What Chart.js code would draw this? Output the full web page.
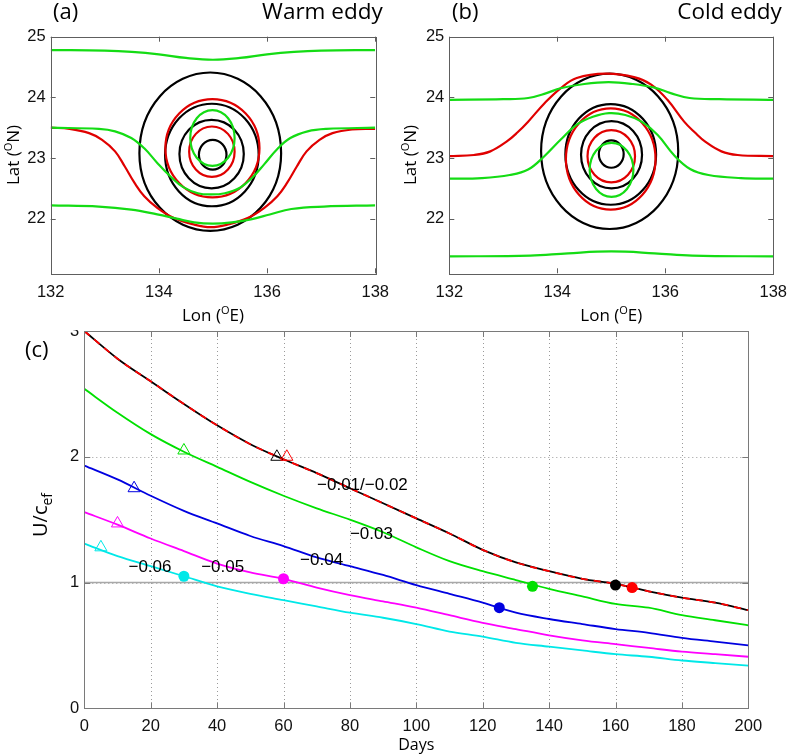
<!DOCTYPE html>
<html>
<head>
<meta charset="utf-8">
<title>Warm / cold eddy</title>
<script src="https://cdn.jsdelivr.net/npm/chart.js@4.4.1/dist/chart.umd.min.js"></script>
<style>
  html, body { margin: 0; padding: 0; background: #fff; }
  #wrap { position: relative; width: 796px; height: 754px; overflow: hidden; }
  canvas { position: absolute; }
  #panelA { left: 0; top: 0; z-index: 2; background: #fff; }
  #panelB { left: 398px; top: 0; z-index: 2; background: #fff; }
  #panelC { left: 0; top: 310px; z-index: 1; background: #fff; }
</style>
</head>
<body>
<div id="wrap">
  <canvas id="panelA" width="398" height="330"></canvas>
  <canvas id="panelB" width="398" height="330"></canvas>
  <canvas id="panelC" width="796" height="444"></canvas>
</div>
<script>
// ---- ticks ----
const lonTicks = [132, 134, 136, 138];
const latTicks = [22, 23, 24, 25];
const dayTicks = [0, 20, 40, 60, 80, 100, 120, 140, 160, 180, 200];
const ratioTicks = [0, 1, 2, 3];

// ---- (a) warm eddy: open streamlines, [lon, lat] ----
const warmGreenTop = [[132,24.78],[133,24.77],[133.5,24.75],[134,24.71],[134.5,24.65],[135,24.62],[135.5,24.65],[136,24.71],[136.5,24.75],[137,24.77],[138,24.78]];
const warmGreenMid = [[132,23.50],[132.89,23.48],[133.19,23.44],[133.49,23.33],[133.73,23.16],[133.97,22.92],[134.21,22.70],[134.45,22.52],[134.72,22.42],[134.96,22.40],[135.22,22.42],[135.5,22.51],[135.73,22.68],[135.95,22.90],[136.19,23.15],[136.43,23.33],[136.75,23.44],[137.1,23.48],[138,23.50]];
const warmGreenLow = [[132,22.22],[132.89,22.20],[133.49,22.15],[133.97,22.07],[134.33,22.00],[134.65,21.94],[135,21.92],[135.35,21.94],[135.7,21.99],[136.05,22.07],[136.45,22.16],[137.05,22.20],[138,22.22]];
const warmRedLine = [[132,23.50],[132.35,23.48],[132.71,23.41],[132.95,23.30],[133.19,23.11],[133.37,22.86],[133.55,22.59],[133.73,22.37],[133.97,22.18],[134.28,22.01],[134.62,21.91],[134.96,21.86],[135.3,21.91],[135.64,22.01],[135.95,22.18],[136.19,22.37],[136.37,22.59],[136.55,22.86],[136.73,23.11],[136.97,23.30],[137.21,23.41],[137.57,23.47],[138,23.48]];
// closed contours
const warmBlack1 = [[134.95,24.41],[135.88,24.02],[136.26,23.08],[135.88,22.18],[134.95,21.80],[134.02,22.18],[133.64,23.08],[134.02,24.02]];
const warmBlack2 = [[134.98,23.895],[135.59,23.65],[135.845,23.05],[135.59,22.45],[134.98,22.205],[134.37,22.45],[134.115,23.05],[134.37,23.65]];
const warmBlack3 = [[134.975,23.63],[135.396,23.465],[135.57,23.065],[135.396,22.665],[134.975,22.50],[134.554,22.665],[134.38,23.065],[134.554,23.465]];
const warmBlack4 = [[134.995,23.30],[135.175,23.228],[135.25,23.055],[135.175,22.882],[134.995,22.81],[134.815,22.882],[134.74,23.055],[134.815,23.228]];
const warmRed1 = [[134.99,23.97],[135.605,23.733],[135.86,23.16],[135.605,22.587],[134.99,22.35],[134.375,22.587],[134.12,23.16],[134.375,23.733]];
const warmRed2 = [[134.98,23.52],[135.277,23.398],[135.40,23.105],[135.277,22.812],[134.98,22.69],[134.683,22.812],[134.56,23.105],[134.683,23.398]];
const warmGreenRing = [[134.99,23.79],[135.28,23.655],[135.40,23.33],[135.28,23.005],[134.99,22.87],[134.70,23.005],[134.58,23.33],[134.70,23.655]];

// ---- (b) cold eddy ----
const coldGreenTop = [[132,23.96],[133,23.97],[133.46,23.99],[133.8,24.07],[134.06,24.15],[134.5,24.22],[134.95,24.25],[135.4,24.22],[135.8,24.16],[136.1,24.07],[136.45,23.99],[137,23.97],[138,23.96]];
const coldGreenMid = [[132,22.66],[132.6,22.67],[133.12,22.72],[133.46,22.81],[133.76,23.03],[134.06,23.30],[134.36,23.55],[134.66,23.68],[134.96,23.74],[135.26,23.71],[135.56,23.60],[135.86,23.38],[136.16,23.05],[136.46,22.82],[136.8,22.72],[137.4,22.67],[138,22.66]];
const coldGreenLow = [[132,21.38],[133.5,21.39],[134.2,21.43],[135,21.46],[135.8,21.43],[136.5,21.39],[138,21.38]];
const coldRedLine = [[132,23.03],[132.46,23.05],[132.76,23.11],[133.06,23.27],[133.26,23.42],[133.46,23.60],[133.76,23.90],[134.06,24.15],[134.36,24.32],[134.9,24.39],[135.44,24.33],[135.74,24.21],[136.04,23.96],[136.35,23.60],[136.55,23.42],[136.74,23.27],[137.04,23.11],[137.34,23.05],[138,23.03]];
const coldBlack1 = [[134.97,24.39],[135.868,24.015],[136.24,23.11],[135.868,22.205],[134.97,21.83],[134.072,22.205],[133.70,23.11],[134.072,24.015]];
const coldBlack2 = [[134.99,23.89],[135.584,23.647],[135.83,23.06],[135.584,22.473],[134.99,22.23],[134.396,22.473],[134.15,23.06],[134.396,23.647]];
const coldBlack3 = [[135.005,23.61],[135.405,23.447],[135.57,23.055],[135.405,22.663],[135.005,22.50],[134.605,22.663],[134.44,23.055],[134.605,23.447]];
const coldBlack4 = [[135.0,23.29],[135.163,23.224],[135.23,23.065],[135.163,22.906],[135.0,22.84],[134.837,22.906],[134.77,23.065],[134.837,23.224]];
const coldRed1 = [[134.99,23.82],[135.577,23.575],[135.82,22.985],[135.577,22.395],[134.99,22.15],[134.403,22.395],[134.16,22.985],[134.403,23.575]];
const coldRed2 = [[135.0,23.46],[135.311,23.334],[135.44,23.03],[135.311,22.726],[135.0,22.60],[134.689,22.726],[134.56,23.03],[134.689,23.334]];
const coldGreenRing = [[135.005,23.25],[135.291,23.12],[135.41,22.805],[135.291,22.49],[135.005,22.36],[134.719,22.49],[134.60,22.805],[134.719,23.12]];

// ---- (c) U/c_ef against days ----
const days = [0, 10, 20, 30, 40, 50, 60, 70, 80, 90, 100, 110, 120, 130, 140, 150, 160, 170, 180, 190, 200];
const ratio001 = [3.00, 2.78, 2.60, 2.42, 2.25, 2.10, 1.98, 1.87, 1.75, 1.63, 1.51, 1.39, 1.26, 1.16, 1.09, 1.03, 0.99, 0.93, 0.88, 0.84, 0.78];
const ratio002 = [3.00, 2.78, 2.60, 2.42, 2.25, 2.10, 1.98, 1.87, 1.75, 1.63, 1.51, 1.39, 1.26, 1.16, 1.09, 1.03, 0.99, 0.93, 0.88, 0.84, 0.78];
const ratio003 = [2.54, 2.35, 2.18, 2.04, 1.92, 1.80, 1.69, 1.59, 1.50, 1.40, 1.28, 1.17, 1.09, 1.02, 0.95, 0.89, 0.83, 0.80, 0.74, 0.70, 0.66];
const ratio004 = [1.93, 1.82, 1.69, 1.57, 1.47, 1.37, 1.29, 1.20, 1.13, 1.06, 0.98, 0.91, 0.84, 0.76, 0.71, 0.67, 0.63, 0.60, 0.56, 0.53, 0.50];
const ratio005 = [1.56, 1.46, 1.35, 1.25, 1.15, 1.08, 1.03, 0.96, 0.90, 0.85, 0.80, 0.74, 0.68, 0.63, 0.58, 0.54, 0.51, 0.48, 0.45, 0.43, 0.41];
const ratio006 = [1.31, 1.21, 1.13, 1.05, 0.97, 0.91, 0.86, 0.81, 0.76, 0.72, 0.67, 0.61, 0.57, 0.52, 0.49, 0.46, 0.43, 0.41, 0.38, 0.36, 0.34];
// open triangles (start) and filled dots (U/c_ef reaching 1), same order as series
const startDays = [58, 61, 30, 15, 10, 5];
const startVals = [2.00, 2.00, 2.05, 1.75, 1.47, 1.28];
const endDays = [160, 165, 135, 125, 60, 30];
const endVals = [0.98, 0.96, 0.97, 0.80, 1.03, 1.05];
const curveLabels = ['\u22120.01/\u22120.02', '\u22120.03', '\u22120.04', '\u22120.05', '\u22120.06'];
const curveLabelDays = [70.1, 80.0, 65.0, 35.2, 13.3];
const curveLabelVals = [1.735, 1.346, 1.139, 1.086, 1.086];

// ---- styles ----
const GREEN = '#14dc14', RED = '#e00000', BLACK = '#000000';
const seriesColors = ['#000000', '#ff0000', '#00e000', '#0000e0', '#ff00ff', '#00e8e8'];
const FONT_LABEL = '"Open Sans", "DejaVu Sans", sans-serif';
const FONT_TICK = '"Liberation Sans", Arial, sans-serif';

const toXY = arr => arr.map(([x, y]) => ({x, y}));
const zipXY = (xs, ys) => xs.map((x, i) => ({x, y: ys[i]}));

function curve(arr, color, order, closed) {
    return {
        data: toXY(arr), borderColor: color, borderWidth: 2.2, pointRadius: 0, fill: false,
        tension: closed ? 0.38 : 0.4, cubicInterpolationMode: 'default',
        closed: !!closed, order
    };
}

// close the contour loops with a smooth join
const loopPlugin = {
    id: 'loops',
    afterDatasetUpdate(chart, args) {
        const ds = chart.data.datasets[args.index];
        if (ds && ds.closed && args.meta.dataset) {
            args.meta.dataset._loop = true;
            args.meta.dataset._fullLoop = true;
        }
    }
};

// MATLAB style box, inward ticks, dotted grid
function makeFrame(opt) {
    return {
        id: 'frame',
        beforeDatasetsDraw(chart) {
            const {ctx, chartArea: a, scales: {x, y}} = chart;
            ctx.save();
            if (opt.grid) {
                ctx.strokeStyle = opt.gridColor;
                ctx.lineWidth = 1;
                ctx.setLineDash([1, 3]);
                x.ticks.forEach(t => {
                    const px = Math.round(x.getPixelForValue(t.value)) + 0.5;
                    if (px > a.left + 2 && px < a.right - 2) {
                        ctx.beginPath(); ctx.moveTo(px, a.top); ctx.lineTo(px, a.bottom); ctx.stroke();
                    }
                });
                y.ticks.forEach(t => {
                    const py = Math.round(y.getPixelForValue(t.value)) + 0.5;
                    if (py > a.top + 2 && py < a.bottom - 2) {
                        ctx.beginPath(); ctx.moveTo(a.left, py); ctx.lineTo(a.right, py); ctx.stroke();
                    }
                });
                ctx.setLineDash([]);
            }
            if (opt.refValue !== undefined) {
                const py = y.getPixelForValue(opt.refValue);
                ctx.strokeStyle = opt.refColor;
                ctx.lineWidth = 1.5;
                ctx.beginPath(); ctx.moveTo(a.left, py); ctx.lineTo(a.right, py); ctx.stroke();
            }
            ctx.restore();
        },
        afterDatasetsDraw(chart) {
            const {ctx, chartArea: a, scales: {x, y}} = chart;
            const L = opt.tickLen;
            ctx.save();
            ctx.strokeStyle = opt.color;
            ctx.lineWidth = 1;
            ctx.beginPath();
            x.ticks.forEach(t => {
                const px = Math.round(x.getPixelForValue(t.value)) + 0.5;
                ctx.moveTo(px, a.bottom); ctx.lineTo(px, a.bottom - L);
                ctx.moveTo(px, a.top); ctx.lineTo(px, a.top + L);
            });
            y.ticks.forEach(t => {
                const py = Math.round(y.getPixelForValue(t.value)) + 0.5;
                ctx.moveTo(a.left, py); ctx.lineTo(a.left + L, py);
                ctx.moveTo(a.right, py); ctx.lineTo(a.right - L, py);
            });
            ctx.stroke();
            ctx.strokeRect(Math.round(a.left) + 0.5, Math.round(a.top) + 0.5,
                Math.round(a.right - a.left), Math.round(a.bottom - a.top));
            ctx.restore();
        }
    };
}

// text with superscripts / subscripts
function drawRich(ctx, parts, x, y, align, rotate) {
    ctx.save();
    ctx.translate(x, y);
    if (rotate) ctx.rotate(rotate);
    ctx.textBaseline = 'alphabetic';
    ctx.textAlign = 'left';
    const widths = parts.map(p => {
        ctx.font = p.size + 'px ' + (p.family || FONT_LABEL);
        return ctx.measureText(p.t).width;
    });
    const total = widths.reduce((s, w) => s + w, 0);
    let cx = align === 'center' ? -total / 2 : align === 'right' ? -total : 0;
    parts.forEach((p, i) => {
        ctx.font = p.size + 'px ' + (p.family || FONT_LABEL);
        ctx.fillStyle = '#000';
        ctx.fillText(p.t, cx, p.dy || 0);
        cx += widths[i];
    });
    ctx.restore();
}

function makeLabels(items) {
    return {
        id: 'labels',
        afterDraw(chart) {
            const {ctx, scales: {x, y}} = chart;
            items.forEach(it => {
                let px = it.x, py = it.y;
                if (it.data) { px = x.getPixelForValue(it.data[0]); py = y.getPixelForValue(it.data[1]); }
                if (it.centerX) px = (chart.chartArea.left + chart.chartArea.right) / 2;
                if (it.centerY) py = (chart.chartArea.top + chart.chartArea.bottom) / 2;
                drawRich(ctx, it.parts, px, py, it.align || 'left', it.rotate || 0);
            });
        }
    };
}

function axis(min, max, ticks, size, isX, pad) {
    return {
        type: 'linear', min, max,
        afterBuildTicks: s => { s.ticks = ticks.map(v => ({value: v})); },
        afterFit: s => { if (isX) s.height = size; else s.width = size; },
        grid: {display: false, drawTicks: false},
        border: {display: false},
        ticks: {
            font: {family: FONT_TICK, size: 16.5}, color: '#111', padding: pad,
            maxRotation: 0, autoSkip: false, callback: v => String(v)
        }
    };
}

const baseOptions = (padding, xAxis, yAxis) => ({
    responsive: false, animation: false, devicePixelRatio: 1,
    layout: {padding},
    scales: {x: xAxis, y: yAxis},
    plugins: {legend: {display: false}, tooltip: {enabled: false}}
});

const sup = (pre, letter, post, size) => [
    {t: pre, size}, {t: letter, size: 11, dy: -7}, {t: post, size}
];

// ---- panel (a) ----
new Chart(document.getElementById('panelA'), {
    type: 'line',
    data: {
        datasets: [
            curve(warmGreenTop, GREEN, 1), curve(warmGreenMid, GREEN, 1), curve(warmGreenLow, GREEN, 1),
            curve(warmGreenRing, GREEN, 1, true),
            curve(warmRedLine, RED, 2), curve(warmRed1, RED, 2, true), curve(warmRed2, RED, 2, true),
            curve(warmBlack1, BLACK, 3, true), curve(warmBlack2, BLACK, 3, true),
            curve(warmBlack3, BLACK, 3, true), curve(warmBlack4, BLACK, 3, true)
        ]
    },
    options: baseOptions({left: 0, right: 15.3, top: 36.7, bottom: 0},
        axis(132, 138, lonTicks, 56.7, true, 9), axis(21.1, 25, latTicks, 50.7, false, 5)),
    plugins: [loopPlugin, makeFrame({color: '#5e5e5e', tickLen: 5}), makeLabels([
        {parts: [{t: '(a)', size: 22}], x: 53, y: 18.5},
        {parts: [{t: 'Warm eddy', size: 22.5}], x: 382.7, y: 18.5, align: 'right'},
        {parts: sup('Lon (', 'O', 'E)', 17), centerX: true, y: 320.5, align: 'center'},
        {parts: sup('Lat (', 'O', 'N)', 17), x: 18.5, centerY: true, align: 'center', rotate: -Math.PI / 2}
    ])]
});

// ---- panel (b) ----
new Chart(document.getElementById('panelB'), {
    type: 'line',
    data: {
        datasets: [
            curve(coldGreenTop, GREEN, 1), curve(coldGreenMid, GREEN, 1), curve(coldGreenLow, GREEN, 1),
            curve(coldGreenRing, GREEN, 1, true),
            curve(coldRedLine, RED, 2), curve(coldRed1, RED, 2, true), curve(coldRed2, RED, 2, true),
            curve(coldBlack1, BLACK, 3, true), curve(coldBlack2, BLACK, 3, true),
            curve(coldBlack3, BLACK, 3, true), curve(coldBlack4, BLACK, 3, true)
        ]
    },
    options: baseOptions({left: 0, right: 14.3, top: 36.7, bottom: 0},
        axis(132, 138, lonTicks, 56.7, true, 9), axis(21.1, 25, latTicks, 51.3, false, 5)),
    plugins: [loopPlugin, makeFrame({color: '#5e5e5e', tickLen: 5}), makeLabels([
        {parts: [{t: '(b)', size: 22}], x: 54, y: 18.5},
        {parts: [{t: 'Cold eddy', size: 22.5}], x: 383.7, y: 18.5, align: 'right'},
        {parts: sup('Lon (', 'O', 'E)', 17), centerX: true, y: 320.5, align: 'center'},
        {parts: sup('Lat (', 'O', 'N)', 17), x: 17.5, centerY: true, align: 'center', rotate: -Math.PI / 2}
    ])]
});

// ---- panel (c) ----
const ratioSeries = [ratio001, ratio002, ratio003, ratio004, ratio005, ratio006];
const lineSets = ratioSeries.map((vals, i) => ({
    data: zipXY(days, vals),
    borderColor: seriesColors[i],
    borderWidth: 1.8,
    borderDash: i === 1 ? [7, 6] : [],
    pointRadius: 0, fill: false, tension: 0,
    cubicInterpolationMode: 'monotone',
    order: i === 1 ? 2 : i === 0 ? 3 : 4 + i
}));

new Chart(document.getElementById('panelC'), {
    type: 'line',
    data: {
        datasets: lineSets.concat([
            {
                data: zipXY(startDays, startVals), showLine: false, order: 0,
                pointStyle: 'triangle', pointRadius: 7, pointBorderWidth: 1,
                pointBorderColor: seriesColors, pointBackgroundColor: 'rgba(0,0,0,0)'
            },
            {
                data: zipXY(endDays, endVals), showLine: false, order: 0,
                pointStyle: 'circle', pointRadius: 5.5, pointBorderWidth: 0,
                pointBackgroundColor: seriesColors, pointBorderColor: seriesColors
            }
        ])
    },
    options: baseOptions({left: 0, right: 47.7, top: 21, bottom: 0},
        axis(0, 200, dayTicks, 45.7, true, 8), axis(0, 3, ratioTicks, 84.3, false, 5)),
    plugins: [makeFrame({color: '#7a7a7a', tickLen: 6, grid: true, gridColor: '#9a9a9a', refValue: 1, refColor: '#a8a8a8'}),
        makeLabels([
            {parts: [{t: '(c)', size: 22}], x: 25, y: 47},
            {parts: [{t: 'Days', size: 16}], centerX: true, y: 440, align: 'center'},
            {parts: [{t: 'U/c', size: 20}, {t: 'ef', size: 14, dy: 5}], x: 46.5, y: 205, align: 'center', rotate: -Math.PI / 2}
        ].concat(curveLabels.map((t, i) => ({
            parts: [{t, size: 17, family: FONT_TICK}],
            data: [curveLabelDays[i], curveLabelVals[i]]
        }))))
    ]
});
</script>
</body>
</html>
